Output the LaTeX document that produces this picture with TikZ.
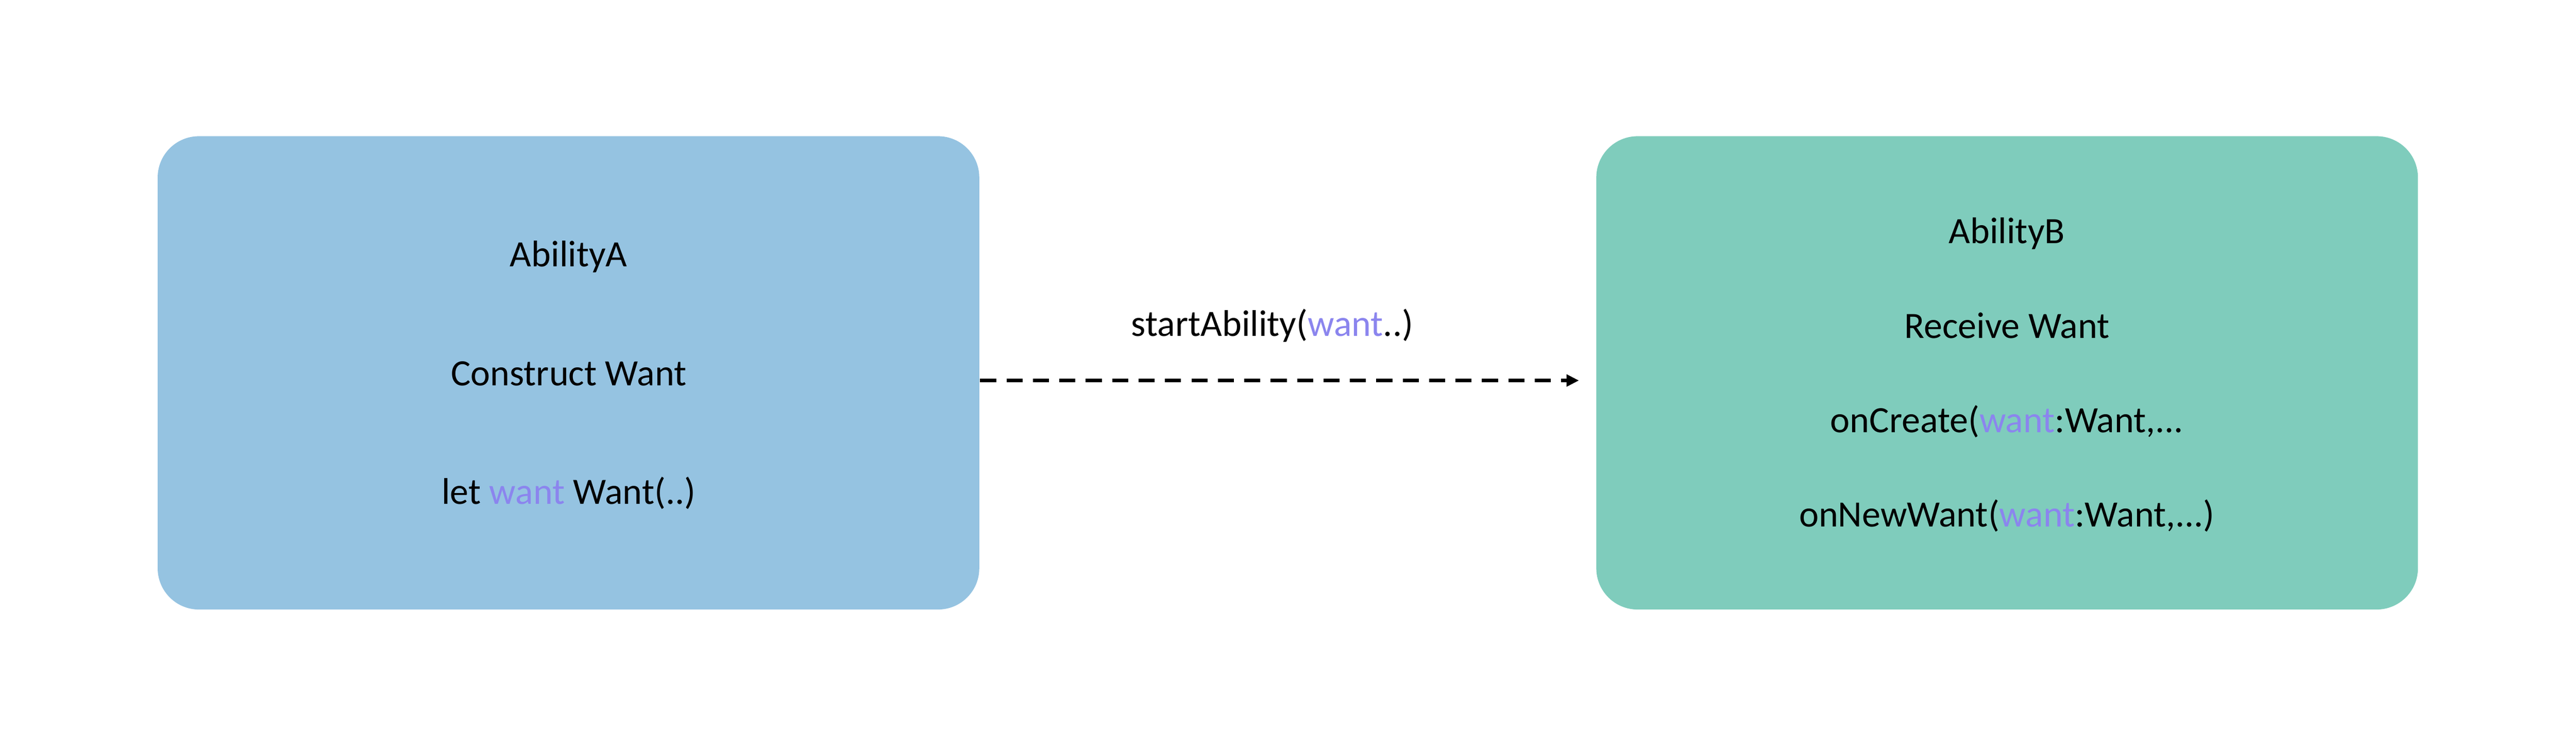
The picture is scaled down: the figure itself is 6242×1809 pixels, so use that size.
\documentclass[tikz,border=0pt]{standalone}
\usepackage{fontspec}
\setmainfont{Carlito}
\usetikzlibrary{arrows.meta}
\definecolor{boxblue}{HTML}{95C3E1}
\definecolor{boxteal}{HTML}{7FCCBC}
\definecolor{wantpurple}{HTML}{8B85EE}
\tikzset{
  abox/.style={rectangle, rounded corners=10pt, draw=none, inner sep=0pt, minimum width=199.1pt, minimum height=114.7pt},
  lbl/.style={anchor=base, inner sep=0pt, font=\fontsize{9pt}{11pt}\selectfont, text=black},
  conn/.style={line width=0.9pt, dash pattern=on 3.9pt off 2.5pt, -{Triangle[length=3pt,width=2.8pt]}}
}
\newcommand{\wnt}[1]{\textcolor{wantpurple}{#1}}
\begin{document}
\begin{tikzpicture}[x=0.1pt,y=-0.1pt]
\useasboundingbox (0,0) rectangle (6242,1809);
\node[abox, fill=boxblue] (A) at (1377.5,903.5) {};
\node[abox, fill=boxteal] (B) at (4863.5,903.5) {};
\node[lbl] (a1) at (1378,646) {AbilityA};
\node[lbl] (a2) at (1378,934) {Construct Want};
\node[lbl] (a3) at (1378,1222) {let \wnt{want} Want(..)};
\node[lbl] (b1) at (4863,590) {AbilityB};
\node[lbl] (b2) at (4863,820) {Receive Want};
\node[lbl] (b3) at (4863,1048) {onCreate(\wnt{want}:Want,...};
\node[lbl] (b4) at (4863,1276) {onNewWant(\wnt{want}:Want,...)};
\node[lbl] (lab) at (3083,815) {startAbility(\wnt{want}..)};
\coordinate (tipend) at (3826,922);
\draw[conn] (A.east |- tipend) -- (tipend);
\end{tikzpicture}
\end{document}
